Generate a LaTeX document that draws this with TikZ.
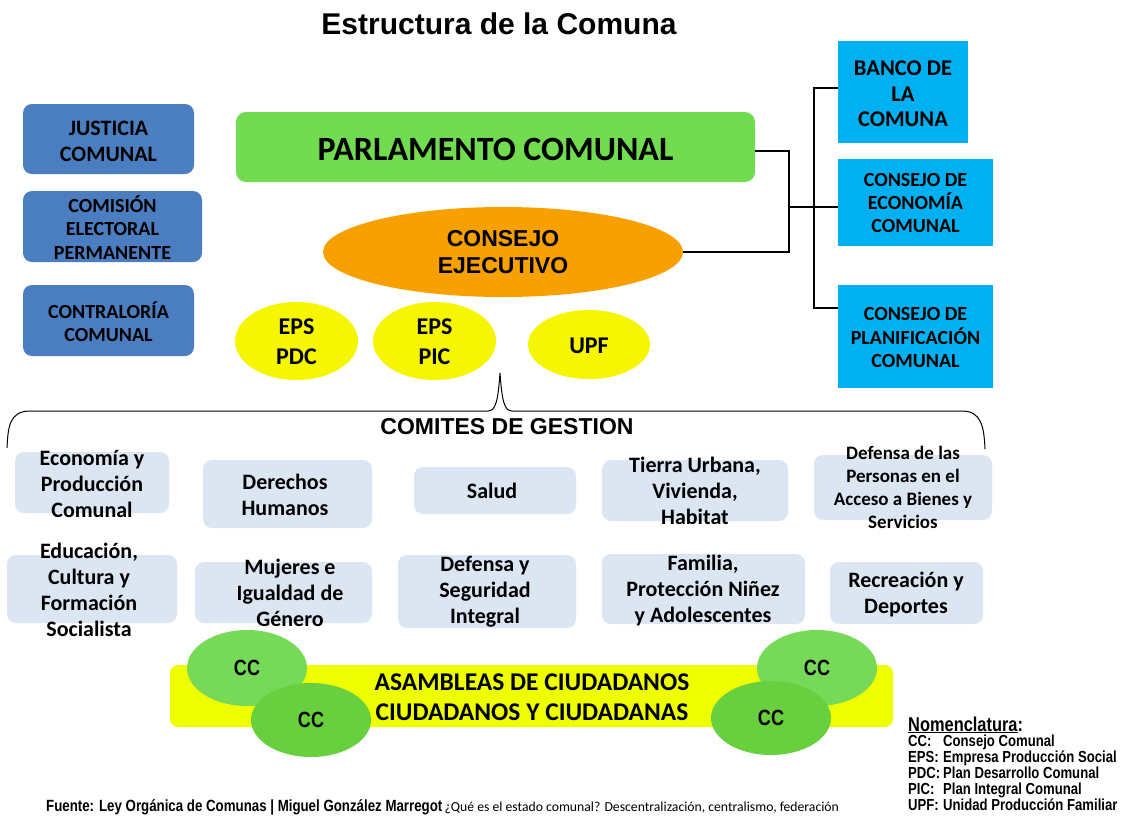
\documentclass[tikz,border=0pt]{standalone}
\usepackage{fontspec}
\setmainfont{Carlito}
\newfontfamily\arialf{Liberation Sans}
\newfontfamily\narrowf[FakeStretch=0.82]{Liberation Sans}
\usetikzlibrary{shapes.geometric}
\definecolor{bluebx}{RGB}{74,126,193}
\definecolor{cyanbx}{RGB}{0,176,240}
\definecolor{parlgreen}{RGB}{114,220,80}
\definecolor{orangex}{RGB}{247,160,0}
\definecolor{yellowe}{RGB}{246,246,0}
\definecolor{yellowbar}{RGB}{238,255,0}
\definecolor{combx}{RGB}{220,230,242}
\definecolor{ccA}{RGB}{118,218,88}
\definecolor{ccB}{RGB}{104,208,62}
\newcommand\fsz[2]{\fontsize{#1}{#2}\selectfont}
\tikzset{
  bluebox/.style={fill=bluebx, rounded corners=9pt, inner sep=0pt},
  cyanbox/.style={fill=cyanbx, inner sep=0pt},
  combox/.style={fill=combx, rounded corners=9pt, inner sep=0pt},
  yellowell/.style={ellipse, fill=yellowe, inner sep=0pt},
  ccell/.style={ellipse, inner sep=0pt, minimum width=120pt},
  boxtext/.style={align=center, inner sep=0pt, font=\bfseries},
  ctext/.style={align=center, inner sep=0pt, font=\bfseries\fsz{22}{26}},
  cctext/.style={inner sep=0pt, font=\narrowf\bfseries\fsz{22}{26}},
  conn/.style={draw=black, line width=1.1pt},
  nomtext/.style={inner sep=0pt, anchor=base west, font=\narrowf\bfseries\fsz{16}{16}}
}
\begin{document}
\begin{tikzpicture}[x=1pt,y=-1pt]
\useasboundingbox (0,0) rectangle (1127,815);
\fill[white] (0,0) rectangle (1127,815);

% title
\node[inner sep=0pt, anchor=base, font=\arialf\bfseries\fsz{30}{36}] (title) at (499,34) {Estructura de la Comuna};

% left blue boxes
\node[bluebox, minimum width=171pt, minimum height=70pt] (justicia) at (108.5,139) {};
\node[boxtext, font=\bfseries\fsz{22}{26}] (tjusticia) at (108.5,141) {JUSTICIA\\COMUNAL};
\node[bluebox, minimum width=179pt, minimum height=71pt] (comision) at (112.5,226.5) {};
\node[boxtext, font=\bfseries\fsz{20}{23.5}] (tcomision) at (112.5,227.5) {COMISIÓN\\ELECTORAL\\PERMANENTE};
\node[bluebox, minimum width=171pt, minimum height=71pt] (contra) at (108.5,320.5) {};
\node[boxtext, font=\bfseries\fsz{20}{23}] (tcontra) at (108.5,321.5) {CONTRALORÍA\\COMUNAL};

% parlamento
\node[fill=parlgreen, rounded corners=10pt, minimum width=519pt, minimum height=70pt, inner sep=0pt] (parl) at (495.5,147) {};
\node[boxtext, font=\bfseries\fsz{34}{40}] (tparl) at (495.5,149) {PARLAMENTO COMUNAL};

% consejo ejecutivo
\node[ellipse, fill=orangex, minimum width=360pt, minimum height=90pt, inner sep=0pt] (ejec) at (503,252) {};
\node[boxtext, font=\arialf\bfseries\fsz{23}{27.5}] (tejec) at (503,252) {CONSEJO\\EJECUTIVO};

% yellow ellipses
\node[yellowell, minimum width=123pt, minimum height=78pt] (pdc) at (296.5,341) {};
\node[boxtext, font=\bfseries\fsz{24}{30}] (tpdc) at (296.5,342) {EPS\\PDC};
\node[yellowell, minimum width=123pt, minimum height=78pt] (pic) at (434.5,341) {};
\node[boxtext, font=\bfseries\fsz{24}{30}] (tpic) at (434.5,342) {EPS\\PIC};
\node[yellowell, minimum width=122pt, minimum height=69pt] (upf) at (589,344.5) {};
\node[boxtext, font=\bfseries\fsz{24}{30}] (tupf) at (589,346) {UPF};

% right cyan boxes
\node[cyanbox, minimum width=130pt, minimum height=102pt] (banco) at (903,92) {};
\node[boxtext, font=\bfseries\fsz{22.5}{25.5}] (tbanco) at (903,94) {BANCO DE\\LA\\COMUNA};
\node[cyanbox, minimum width=155pt, minimum height=87pt] (econ) at (915.5,202.5) {};
\node[boxtext, font=\bfseries\fsz{20}{23}] (tecon) at (915.5,203.5) {CONSEJO DE\\ECONOMÍA\\COMUNAL};
\node[cyanbox, minimum width=155pt, minimum height=103pt] (planif) at (915.5,336.5) {};
\node[boxtext, font=\bfseries\fsz{20}{23.5}] (tplanif) at (915.5,338) {CONSEJO DE\\PLANIFICACIÓN\\COMUNAL};

% connectors
\coordinate (jA) at (789,207);
\coordinate (jB) at (814,207);
\coordinate (jT) at (814,88);
\coordinate (jP) at (814,308);
\draw[conn] ([yshift=-4pt]parl.east) -| (jA) |- (ejec.east);
\draw[conn] (jA) -- (jB) -- (jB -| econ.west);
\draw[conn] (jT -| banco.west) -- (jT) -- (jP) -- (jP -| planif.west);

% brace
\coordinate (brL) at (7,448);
\coordinate (brT) at (500,373);
\coordinate (brR) at (985,449);
\draw[line width=1pt] (brL) .. controls (8,428) and (9,411) .. (30,411) -- (488,411)
  .. controls (496,411) and (498,400) .. (brT)
  .. controls (502,400) and (504,411) .. (512,411) -- (962,411)
  .. controls (981,411) and (984,426) .. (brR);
\node[inner sep=0pt, font=\arialf\bfseries\fsz{23}{27}] (comites) at (507,427) {COMITES DE GESTION};

% committees row 1
\node[combox, minimum width=154pt, minimum height=61pt] (eco) at (92,482.5) {};
\node[ctext] (teco) at (92,484) {Economía y\\Producción\\Comunal};
\node[combox, minimum width=169pt, minimum height=68pt] (der) at (287.5,494) {};
\node[ctext] (tder) at (285,495) {Derechos\\Humanos};
\node[combox, minimum width=162pt, minimum height=47pt] (sal) at (495,490.5) {};
\node[ctext] (tsal) at (492,491) {Salud};
\node[combox, minimum width=186pt, minimum height=61pt] (tie) at (695,490.5) {};
\node[ctext] (ttie) at (695,490.5) {Tierra Urbana,\\Vivienda,\\Habitat};
\node[combox, minimum width=178pt, minimum height=65pt] (dpa) at (903,487.5) {};
\node[ctext, font=\bfseries\fsz{19}{23}] (tdpa) at (903,487) {Defensa de las\\Personas en el\\Acceso a Bienes y\\Servicios};

% committees row 2
\node[combox, minimum width=170pt, minimum height=68pt] (edu) at (92,589) {};
\node[ctext] (tedu) at (89,590) {Educación,\\Cultura y\\Formación\\Socialista};
\node[combox, minimum width=177pt, minimum height=61pt] (muj) at (283.5,592.5) {};
\node[ctext] (tmuj) at (290,593) {Mujeres e\\Igualdad de\\Género};
\node[combox, minimum width=178pt, minimum height=73pt] (seg) at (487,591.5) {};
\node[ctext] (tseg) at (485,592) {Defensa y\\Seguridad\\Integral};
\node[combox, minimum width=203pt, minimum height=70pt] (fam) at (703.5,589) {};
\node[ctext] (tfam) at (703,590.5) {Familia,\\Protección Niñez\\y Adolescentes};
\node[combox, minimum width=153pt, minimum height=62pt] (rec) at (906.5,593) {};
\node[ctext] (trec) at (906,594.5) {Recreación y\\Deportes};

% asambleas
\node[fill=yellowbar, rounded corners=8pt, minimum width=723pt, minimum height=62pt, inner sep=0pt] (asam) at (531.5,696) {};
\node[align=center, inner sep=0pt, font=\bfseries\fsz{25.5}{30}] (tasam) at (532,697) {ASAMBLEAS DE CIUDADANOS\\CIUDADANOS Y CIUDADANAS};
\node[ccell, fill=ccA, minimum height=76pt] (cc1) at (247,668) {};
\node[cctext] (tcc1) at (247,668) {CC};
\node[ccell, fill=ccB, minimum height=74pt] (cc2) at (311,720) {};
\node[cctext] (tcc2) at (311,720) {CC};
\node[ccell, fill=ccA, minimum height=76pt] (cc3) at (817,668) {};
\node[cctext] (tcc3) at (817,668) {CC};
\node[ccell, fill=ccB, minimum height=74pt] (cc4) at (771,718) {};
\node[cctext] (tcc4) at (771,718) {CC};

% nomenclatura
\node[nomtext, font=\narrowf\bfseries\fsz{20}{20}] (nom) at (908,731) {\underline{Nomenclatura}:};
\node[nomtext] (nom1) at (908,746.5) {\makebox[35pt][l]{CC:}Consejo Comunal};
\node[nomtext] (nom2) at (908,762.5) {\makebox[35pt][l]{EPS:}Empresa Producción Social};
\node[nomtext] (nom3) at (908,778.5) {\makebox[35pt][l]{PDC:}Plan Desarrollo Comunal};
\node[nomtext] (nom4) at (908,794.5) {\makebox[35pt][l]{PIC:}Plan Integral Comunal};
\node[nomtext] (nom5) at (908,810.5) {\makebox[35pt][l]{UPF:}Unidad Producción Familiar};

% footer
\node[inner sep=0pt, anchor=base west] (fuente) at (46,811) {{\narrowf\bfseries\fsz{16.2}{18}Fuente: Ley Orgánica de Comunas | Miguel González Marregot} {\fsz{13.7}{15}¿Qué es el estado comunal? Descentralización, centralismo, federación}};
\end{tikzpicture}
\end{document}
